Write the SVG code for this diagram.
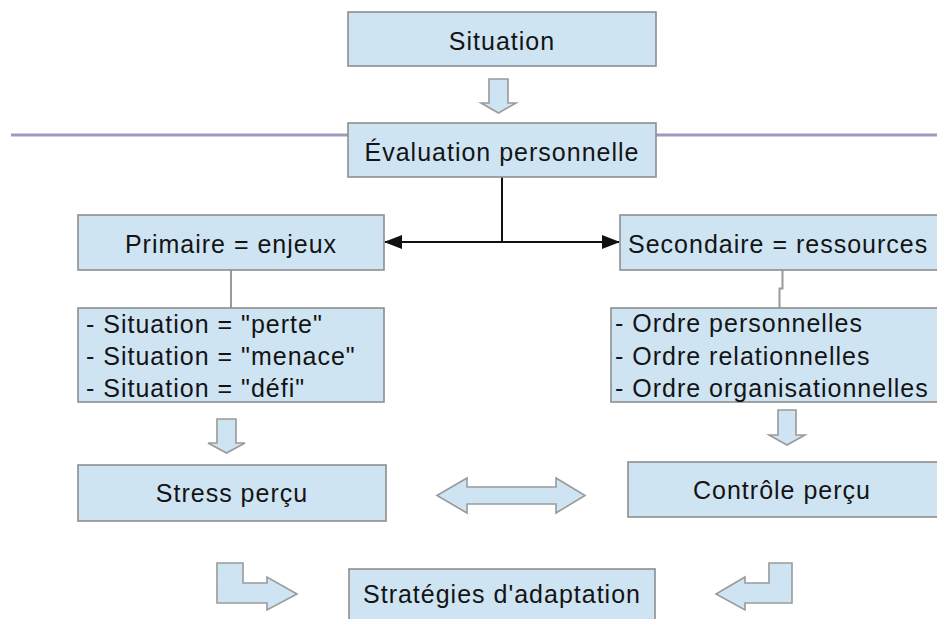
<svg xmlns="http://www.w3.org/2000/svg" width="937" height="619" viewBox="0 0 937 619">
<style>
.box{fill:#cfe4f3;stroke:#8e8e8e;stroke-width:1.6}
.blk{fill:#cfe4f3;stroke:#9a9a9a;stroke-width:1.6;stroke-linejoin:miter}
.t{font-family:"Liberation Sans",Arial,sans-serif;font-size:25px;letter-spacing:1px;fill:#141414}
.c{text-anchor:middle}
.conn{fill:none;stroke:#111;stroke-width:2}
.gconn{fill:none;stroke:#9a9a9a;stroke-width:2}
</style>
<defs>
<marker id="ah" viewBox="0 0 18 14" refX="17" refY="7" markerWidth="18" markerHeight="14" markerUnits="userSpaceOnUse" orient="auto-start-reverse">
<path d="M0,0 L18,7 L0,14 Z" fill="#111"/>
</marker>
</defs>
<rect width="937" height="619" fill="#fff"/>
<line x1="11" y1="135" x2="937" y2="135" stroke="#9b9bc2" stroke-width="3"/>

<g id="connectors">
<path class="conn" d="M502,177 V242"/>
<path class="conn" d="M502,242 H385" marker-end="url(#ah)"/>
<path class="conn" d="M502,242 H619" marker-end="url(#ah)"/>
<path class="gconn" d="M231,270 V308"/>
<path class="gconn" d="M782.5,270 V288.5 H779.5 V308"/>
<polygon id="arrow-down-1" class="blk" points="489,79 508,79 508,103 516,103 498.5,113 481,103 489,103"/>
<polygon id="arrow-down-2" class="blk" points="217,419 236,419 236,443 245,443 226.5,453 208,443 217,443"/>
<polygon id="arrow-down-3" class="blk" points="778,410 796,410 796,435 805,435 787,445 769,435 778,435"/>
<polygon id="arrow-double" class="blk" points="437,495.5 467,478 467,487 556,487 556,478 585,495.5 556,513 556,504 467,504 467,513"/>
<polygon id="arrow-bent-left" class="blk" points="217,563 243,563 243,583 267,583 267,577 297,594 267,610 267,603 217,603"/>
<polygon id="arrow-bent-right" class="blk" points="792,563 769,563 769,583 745,583 745,577 716,594 745,610 745,603 792,603"/>
</g>

<g id="situation">
<rect class="box" x="348" y="12" width="308" height="54"/>
<text class="t c" x="502" y="50">Situation</text>
</g>
<g id="evaluation">
<rect class="box" x="348" y="123" width="308" height="54"/>
<text class="t c" x="502" y="161">Évaluation personnelle</text>
</g>
<g id="primaire">
<rect class="box" x="78" y="215" width="306" height="55"/>
<text class="t c" x="231" y="253">Primaire = enjeux</text>
</g>
<g id="primaire-list">
<rect class="box" x="78" y="308" width="306" height="94"/>
<text class="t" x="86" y="333">- Situation = "perte"</text>
<text class="t" x="86" y="365">- Situation = "menace"</text>
<text class="t" x="86" y="397">- Situation = "défi"</text>
</g>
<g id="secondaire">
<rect class="box" x="620" y="215" width="330" height="55"/>
<text class="t" x="628" y="253">Secondaire = ressources</text>
</g>
<g id="secondaire-list">
<rect class="box" x="611" y="308" width="340" height="94"/>
<text class="t" x="615" y="332">- Ordre personnelles</text>
<text class="t" x="615" y="365">- Ordre relationnelles</text>
<text class="t" x="615" y="397">- Ordre organisationnelles</text>
</g>
<g id="stress">
<rect class="box" x="78" y="465" width="308" height="56"/>
<text class="t c" x="232" y="502">Stress perçu</text>
</g>
<g id="controle">
<rect class="box" x="628" y="462" width="330" height="55"/>
<text class="t c" x="782" y="499">Contrôle perçu</text>
</g>
<g id="strategies">
<rect class="box" x="349" y="569" width="306" height="60"/>
<text class="t c" x="502" y="603">Stratégies d'adaptation</text>
</g>
</svg>
